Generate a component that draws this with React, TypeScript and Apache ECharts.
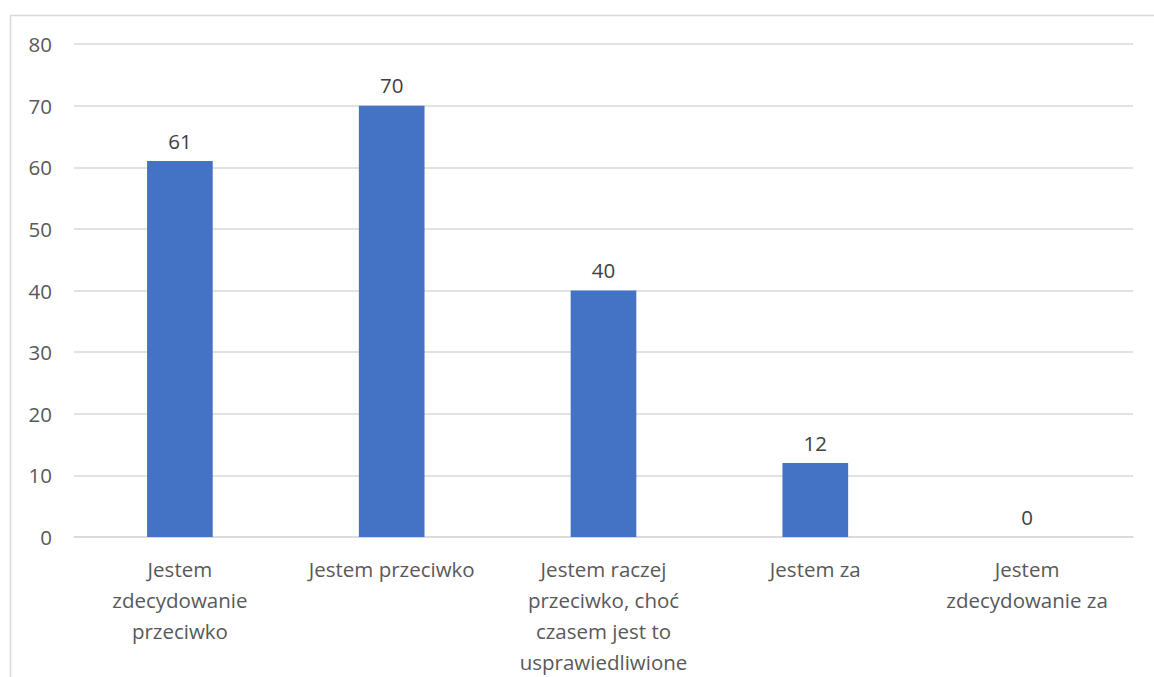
import React, { useEffect, useRef } from "react";
import * as echarts from "echarts";

const categories = [
  "Jestem\nzdecydowanie\nprzeciwko",
  "Jestem przeciwko",
  "Jestem raczej\nprzeciwko, choć\nczasem jest to\nusprawiedliwione",
  "Jestem za",
  "Jestem\nzdecydowanie za",
];
const values = [61, 70, 40, 12, 0];
const yMin = 0;
const yMax = 80;
const yInterval = 10;

export default function App() {
  const ref = useRef<HTMLDivElement>(null);
  useEffect(() => {
    if (!ref.current) return;
    const chart = echarts.init(ref.current, undefined, { renderer: "svg" });
    const font = "'Open Sans', 'Liberation Sans', sans-serif";
    chart.setOption({
      animation: false,
      backgroundColor: "#ffffff",
      textStyle: { fontFamily: font },
      graphic: [
        {
          type: "rect",
          shape: { x: 10.5, y: 15.5, width: 1200, height: 700 },
          style: { fill: "none", stroke: "#d9d9d9", lineWidth: 1.5 },
          silent: true,
        },
      ],
      grid: { left: 74, right: 21, top: 44, bottom: 140, containLabel: false },
      xAxis: {
        type: "category",
        data: categories,
        axisLine: { show: true, lineStyle: { color: "#d9d9d9", width: 1.5 } },
        axisTick: { show: false },
        axisLabel: {
          color: "#595959",
          fontSize: 20.5,
          fontFamily: font,
          lineHeight: 31,
          margin: 16,
          interval: 0,
          align: "center",
        },
      },
      yAxis: {
        type: "value",
        min: yMin,
        max: yMax,
        interval: yInterval,
        axisLine: { show: false },
        axisTick: { show: false },
        splitLine: { lineStyle: { color: "#d9d9d9", width: 1.5 } },
        axisLabel: { color: "#595959", fontSize: 20.5, fontFamily: font, margin: 22 },
      },
      series: [
        {
          type: "bar",
          data: values,
          barWidth: "31%",
          itemStyle: { color: "#4472c4" },
          label: {
            show: true,
            position: "top",
            distance: 10,
            color: "#404040",
            fontSize: 20.5,
            fontFamily: font,
          },
        },
      ],
    });
    return () => chart.dispose();
  }, []);
  return (
    <div
      ref={ref}
      style={{ position: "fixed", left: 0, top: 0, width: 1154, height: 677 }}
    />
  );
}
